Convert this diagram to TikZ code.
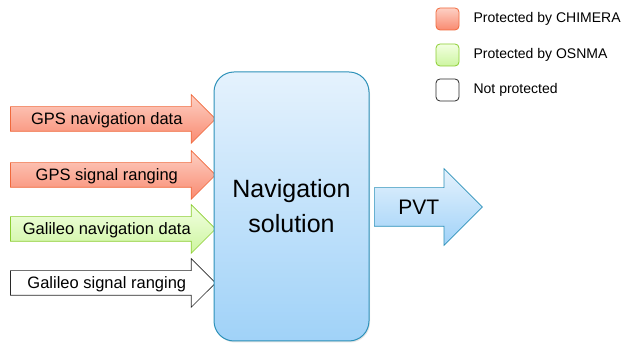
\documentclass[tikz,border=0pt]{standalone}
\usepackage{fontspec}
\setmainfont{Liberation Sans}
\usepackage{tikz}
\usetikzlibrary{shapes.arrows, positioning, shadows}
\definecolor{chimdraw}{RGB}{240,105,60}
\definecolor{chimtop}{RGB}{253,208,196}
\definecolor{chimbot}{RGB}{249,138,112}
\definecolor{osndraw}{RGB}{140,205,50}
\definecolor{osntop}{RGB}{242,255,225}
\definecolor{osnbot}{RGB}{205,245,160}
\definecolor{navdraw}{RGB}{45,145,185}
\definecolor{navtop}{RGB}{229,242,253}
\definecolor{navbot}{RGB}{160,210,248}
\definecolor{nodraw}{RGB}{40,40,40}
\tikzset{
  inarrow/.style={single arrow, single arrow head extend=12pt,
    minimum height=205pt, inner ysep=0pt, inner xsep=2pt,
    text height=18pt, text depth=6pt, anchor=tip,
    font=\fontsize{16.5}{19}\selectfont, line width=0.7pt},
  chimera/.style={draw=chimdraw, top color=chimtop, bottom color=chimbot},
  osnma/.style={draw=osndraw, top color=osntop, bottom color=osnbot},
  unprot/.style={draw=nodraw, fill=white},
  navbox/.style={rectangle, draw=navdraw, top color=navtop, bottom color=navbot,
    minimum width=155pt, minimum height=269pt, rounded corners=20pt,
    align=center, line width=1pt, font=\fontsize{25}{35}\selectfont},
  outarrow/.style={single arrow, single arrow head extend=19pt,
    minimum height=108pt, inner ysep=0pt, text height=26.5pt, text depth=11.5pt,
    draw=navdraw, top color=navtop, bottom color=navbot, anchor=tail,
    font=\fontsize{21}{24}\selectfont, line width=0.7pt},
  legbox/.style={rectangle, minimum width=23pt, minimum height=22pt,
    rounded corners=4pt, line width=0.8pt},
  legtext/.style={inner sep=0pt, font=\fontsize{14}{16}\selectfont}
}
\begin{document}
\begin{tikzpicture}[x=1pt, y=-1pt]
  \useasboundingbox (0,0) rectangle (624,344);

  % Inputs (Left side)
  \node[inarrow, chimera] (gpsnav) at (216,119) {GPS navigation data};
  \node[inarrow, chimera] (gpsrng) at (216,175) {GPS signal ranging};
  \node[inarrow, osnma] (galnav) at (216,229) {Galileo navigation data};
  \node[inarrow, unprot] (galrng) at (216,283) {Galileo signal ranging};

  % Navigation box (Center)
  \node[navbox, drop shadow={opacity=0.2, shadow xshift=1pt, shadow yshift=-1.5pt}]
    (nav) at (291.5,206.5) {Navigation\\solution};

  % Output (Right side)
  \node[outarrow] (pvt) at (374,207) {PVT};

  % Legend (Top right)
  \node[legbox, chimera] (legchim) at (447.5,19) {};
  \node[legbox, osnma] (legosn) at (447.5,55) {};
  \node[legbox, unprot] (legnone) at (447.5,90) {};
  \node[legtext, right=14pt of legchim] (txtchim) {Protected by CHIMERA};
  \node[legtext, right=14pt of legosn] (txtosn) {Protected by OSNMA};
  \node[legtext, right=14pt of legnone] (txtnone) {Not protected};
\end{tikzpicture}
\end{document}
